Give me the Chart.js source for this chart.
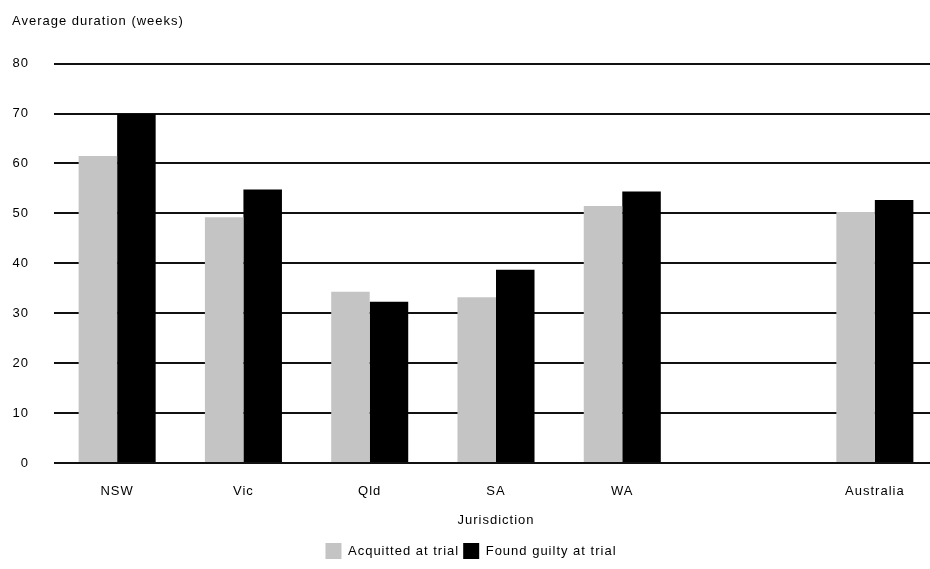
<!DOCTYPE html>
<html>
<head>
<meta charset="utf-8">
<script src="https://cdn.jsdelivr.net/npm/chart.js@4"></script>
<style>
  html, body { margin: 0; padding: 0; background: #fff; }
  #wrap { width: 930px; height: 569px; }
</style>
</head>
<body>
<div id="wrap"><canvas id="chart"></canvas></div>
<script>
// Data
const categories = ['NSW', 'Vic', 'Qld', 'SA', 'WA', '', 'Australia'];
const acquitted = [61.5, 49.2, 34.3, 33.2, 51.5, null, 50.3];
const guilty = [69.9, 54.8, 32.3, 38.7, 54.4, null, 52.7];
const yMin = 0, yMax = 80, yStep = 10;

const font = { family: 'Liberation Sans, Arial, sans-serif', size: 13, weight: 'normal' };

// the original text is spaced out a bit; the category band runs past the right edge
const tweaks = {
  id: 'tweaks',
  beforeLayout(chart) { chart.ctx.letterSpacing = '1px'; },
  beforeDraw(chart) { chart.ctx.letterSpacing = '1px'; },
  afterLayout(chart) {
    const x = chart.scales.x;
    x.right = chart.chartArea.right + 8;
    x.width = x.right - x.left;
    x.configure();
  }
};

const ctx = document.getElementById('chart').getContext('2d');
new Chart(ctx, {
  type: 'bar',
  data: {
    labels: categories,
    datasets: [
      { label: 'Acquitted at trial', data: acquitted, backgroundColor: '#c4c4c4' },
      { label: 'Found guilty at trial', data: guilty, backgroundColor: '#000000' }
    ]
  },
  plugins: [tweaks],
  options: {
    responsive: true,
    maintainAspectRatio: false,
    animation: false,
    datasets: { bar: { categoryPercentage: 0.61, barPercentage: 1.0 } },
    layout: { padding: { left: 12, right: 0, top: 14, bottom: 0 } },
    plugins: {
      title: {
        display: true,
        text: 'Average duration (weeks)',
        align: 'start',
        color: '#000',
        font: font,
        padding: { top: 0, bottom: 34 }
      },
      legend: {
        position: 'bottom',
        labels: {
          color: '#000',
          font: font,
          boxWidth: 16,
          boxHeight: 16,
          padding: 4
        }
      },
      tooltip: { enabled: false }
    },
    scales: {
      x: {
        grid: { display: false },
        border: { display: false },
        ticks: { color: '#000', font: font, padding: 13 },
        title: { display: true, text: 'Jurisdiction', color: '#000', font: font, padding: { top: 0, bottom: 11 } },
        afterFit: (scale) => { scale.height = 76; }
      },
      y: {
        min: yMin,
        max: yMax,
        ticks: { stepSize: yStep, color: '#000', font: font, padding: 25 },
        grid: { color: '#111', lineWidth: 2, drawTicks: false },
        border: { display: false },
        afterFit: (scale) => { scale.width = 42; }
      }
    }
  }
});
</script>
</body>
</html>
